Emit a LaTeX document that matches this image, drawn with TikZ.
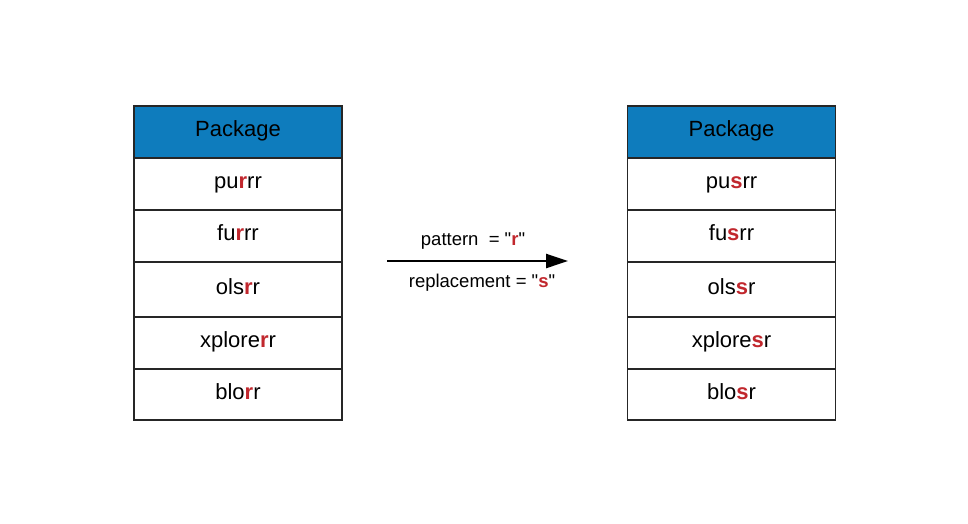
\documentclass[tikz,border=0pt]{standalone}
\usepackage{fontspec}
\setmainfont{Liberation Sans}
\usetikzlibrary{arrows.meta,positioning}

\definecolor{pkgblue}{RGB}{14,124,189}
\definecolor{pkgred}{RGB}{193,39,45}
\newcommand{\hl}[1]{\textcolor{pkgred}{\textbf{#1}}}

\begin{document}
\begin{tikzpicture}[x=1pt, y=-1pt,
        cell/.style={draw=black!85, line width=1.1pt, fill=white, minimum width=208pt,
            minimum height=52pt, inner sep=0pt, outer sep=0pt,
            text height=16pt, text depth=7pt,
            font=\fontsize{22}{26}\selectfont},
        head/.style={cell, fill=pkgblue, text depth=7pt},
        lbl/.style={font=\fontsize{18.5}{22}\selectfont, inner sep=0pt}]
        \useasboundingbox (0,0) rectangle (968,523);
        % left table
        \node[head] (lh) at (238,132) {Package};
        \node[cell, below=0pt of lh] (l1) {pu\hl{r}rr};
        \node[cell, below=0pt of l1] (l2) {fu\hl{r}rr};
        \node[cell, below=0pt of l2, minimum height=55pt] (l3) {ols\hl{r}r};
        \node[cell, below=0pt of l3] (l4) {xplore\hl{r}r};
        \node[cell, below=0pt of l4, minimum height=51pt] (l5) {blo\hl{r}r};
        % right table
        \node[head] (rh) at (731.5,132) {Package};
        \node[cell, below=0pt of rh] (r1) {pu\hl{s}rr};
        \node[cell, below=0pt of r1] (r2) {fu\hl{s}rr};
        \node[cell, below=0pt of r2, minimum height=55pt] (r3) {ols\hl{s}r};
        \node[cell, below=0pt of r3] (r4) {xplore\hl{s}r};
        \node[cell, below=0pt of r4, minimum height=51pt] (r5) {blo\hl{s}r};
        % arrow
        \coordinate (arrS) at (387,261);
        \coordinate (arrE) at (568,261);
        \draw[line width=2.4pt, -{Triangle[length=22pt, width=14pt]}] (arrS) -- (arrE);
        \node[lbl] (pat) at (473,241) {pattern \ = \textquotedbl\hl{r}\textquotedbl};
        \node[lbl] (rep) at (482,283) {replacement = \textquotedbl\hl{s}\textquotedbl};
    \end{tikzpicture}
\end{document}
